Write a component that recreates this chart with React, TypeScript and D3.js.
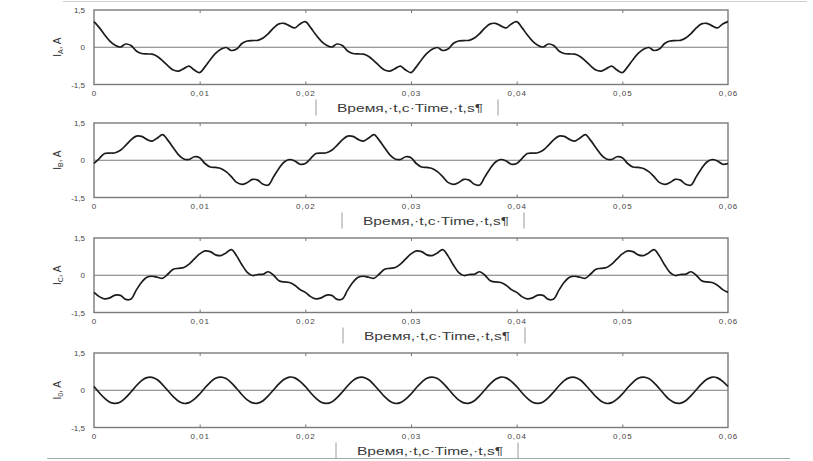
import React, { useEffect, useRef } from "react";
import * as d3 from "d3";

// sampling step of the recorded currents, s
const timeStep = 0.0005;

// phase A current, A
const currentA = [
  1.03, 0.79, 0.5, 0.25, 0.08, 0.01, 0.13, 0.07, -0.15, -0.25, -0.27, -0.28, -0.37, -0.55, -0.75, -0.92, -0.96, -0.86, -0.76, -0.92, -1.02,
  -0.79, -0.5, -0.25, -0.08, -0.01, -0.13, -0.07, 0.15, 0.25, 0.27, 0.28, 0.37, 0.55, 0.78, 0.94, 0.96, 0.86, 0.78, 0.94, 1.03,
  0.79, 0.5, 0.25, 0.08, 0.01, 0.13, 0.07, -0.15, -0.25, -0.27, -0.28, -0.37, -0.55, -0.75, -0.92, -0.96, -0.86, -0.76, -0.92, -1.02,
  -0.79, -0.5, -0.25, -0.08, -0.01, -0.13, -0.07, 0.15, 0.25, 0.27, 0.28, 0.37, 0.55, 0.78, 0.94, 0.96, 0.86, 0.78, 0.94, 1.03,
  0.79, 0.5, 0.25, 0.08, 0.01, 0.13, 0.07, -0.15, -0.25, -0.27, -0.28, -0.37, -0.55, -0.75, -0.92, -0.96, -0.86, -0.76, -0.92, -1.02,
  -0.79, -0.5, -0.25, -0.08, -0.01, -0.13, -0.07, 0.15, 0.25, 0.27, 0.28, 0.37, 0.55, 0.78, 0.94, 0.96, 0.86, 0.78, 0.94, 1.03,
];

// phase B current, A
const currentB = [
  -0.13, 0.07, 0.27, 0.29, 0.3, 0.4, 0.6, 0.82, 0.97, 0.96, 0.84, 0.77, 0.9, 1.03, 0.8, 0.5, 0.22, 0.05, 0.03, 0.14, 0.1,
  -0.13, -0.27, -0.29, -0.33, -0.46, -0.66, -0.89, -0.97, -0.9, -0.77, -0.8, -0.97, -1.0, -0.66, -0.33, -0.07, 0.03, -0.03, -0.16, -0.13,
  0.07, 0.27, 0.29, 0.3, 0.4, 0.6, 0.82, 0.97, 0.96, 0.84, 0.77, 0.9, 1.03, 0.8, 0.5, 0.22, 0.05, 0.03, 0.14, 0.1,
  -0.13, -0.27, -0.29, -0.33, -0.46, -0.66, -0.89, -0.97, -0.9, -0.77, -0.8, -0.97, -1.0, -0.66, -0.33, -0.07, 0.03, -0.03, -0.16, -0.13,
  0.07, 0.27, 0.29, 0.3, 0.4, 0.6, 0.82, 0.97, 0.96, 0.84, 0.77, 0.9, 1.03, 0.8, 0.5, 0.22, 0.05, 0.03, 0.14, 0.1,
  -0.13, -0.27, -0.29, -0.33, -0.46, -0.66, -0.89, -0.97, -0.9, -0.77, -0.8, -0.97, -1.0, -0.66, -0.33, -0.07, 0.03, -0.03, -0.16, -0.13,
];

// phase C current, A
const currentC = [
  -0.69, -0.86, -0.95, -0.91, -0.8, -0.81, -0.97, -0.96, -0.6, -0.28, -0.08, -0.04, -0.08, -0.12, 0.05, 0.24, 0.28, 0.31, 0.45, 0.66, 0.86,
  0.98, 0.95, 0.82, 0.79, 0.9, 1.03, 0.78, 0.42, 0.12, -0.01, 0.03, 0.04, 0.14, 0.0, -0.22, -0.27, -0.29, -0.4, -0.58, -0.69,
  -0.86, -0.95, -0.91, -0.8, -0.81, -0.97, -0.96, -0.6, -0.28, -0.08, -0.04, -0.08, -0.12, 0.05, 0.24, 0.28, 0.31, 0.45, 0.66, 0.86,
  0.98, 0.95, 0.82, 0.79, 0.9, 1.03, 0.78, 0.42, 0.12, -0.01, 0.03, 0.04, 0.14, 0.0, -0.22, -0.27, -0.29, -0.4, -0.58, -0.69,
  -0.86, -0.95, -0.91, -0.8, -0.81, -0.97, -0.96, -0.6, -0.28, -0.08, -0.04, -0.08, -0.12, 0.05, 0.24, 0.28, 0.31, 0.45, 0.66, 0.86,
  0.98, 0.95, 0.82, 0.79, 0.9, 1.03, 0.78, 0.42, 0.12, -0.01, 0.03, 0.04, 0.14, 0.0, -0.22, -0.27, -0.29, -0.4, -0.58, -0.69,
];

// zero sequence current, A
const current0 = [
  0.15, -0.1, -0.32, -0.48, -0.53, -0.47, -0.3, -0.07, 0.18, 0.39, 0.51, 0.52, 0.42, 0.22, -0.02, -0.26, -0.44, -0.53, -0.5, -0.36, -0.15,
  0.1, 0.32, 0.48, 0.53, 0.47, 0.3, 0.07, -0.18, -0.39, -0.51, -0.52, -0.42, -0.22, 0.02, 0.26, 0.44, 0.53, 0.5, 0.36, 0.15,
  -0.1, -0.32, -0.48, -0.53, -0.47, -0.3, -0.07, 0.18, 0.39, 0.51, 0.52, 0.42, 0.22, -0.02, -0.26, -0.44, -0.53, -0.5, -0.36, -0.15,
  0.1, 0.32, 0.48, 0.53, 0.47, 0.3, 0.07, -0.18, -0.39, -0.51, -0.52, -0.42, -0.22, 0.02, 0.26, 0.44, 0.53, 0.5, 0.36, 0.15,
  -0.1, -0.32, -0.48, -0.53, -0.47, -0.3, -0.07, 0.18, 0.39, 0.51, 0.52, 0.42, 0.22, -0.02, -0.26, -0.44, -0.53, -0.5, -0.36, -0.15,
  0.1, 0.32, 0.48, 0.53, 0.47, 0.3, 0.07, -0.18, -0.39, -0.51, -0.52, -0.42, -0.22, 0.02, 0.26, 0.44, 0.53, 0.5, 0.36, 0.15,
];

const seriesNames = ["A", "B", "C", "0"];
const seriesValues = [currentA, currentB, currentC, current0];

const xTicks = [0, 0.01, 0.02, 0.03, 0.04, 0.05, 0.06];
const xTickLabels = ["0", "0,01", "0,02", "0,03", "0,04", "0,05", "0,06"];
const yTicks = [-1.5, 0, 1.5];
const yTickLabels = ["-1,5", "0", "1,5"];
const axisTitle = "Время,·t,c·Time,·t,s¶";

const font = "Liberation Sans, Arial, sans-serif";

export default function App() {
  const ref = useRef<SVGSVGElement>(null);

  useEffect(() => {
    const svg = d3.select(ref.current);
    svg.selectAll("*").remove();

    const dims = { left: 94, right: 728, height: 74.5 };
    const tops = [10, 123, 238, 353];
    const bracketLeft = [316, 342, 343, 336];
    const bracketWidth = 182;

    const x = d3.scaleLinear().domain([0, 0.06]).range([dims.left, dims.right]);

    // page rules above and below the figure
    svg.append("line").attr("x1", 63).attr("x2", 807).attr("y1", 1.5).attr("y2", 1.5)
      .attr("stroke", "#cfcfcf").attr("stroke-width", 1);
    svg.append("line").attr("x1", 47).attr("x2", 790).attr("y1", 458.5).attr("y2", 458.5)
      .attr("stroke", "#a8a8a8").attr("stroke-width", 1);

    seriesValues.forEach((values, i) => {
      const top = tops[i];
      const y = d3.scaleLinear().domain([-1.5, 1.5]).range([top + dims.height, top]);
      const g = svg.append("g");

      // inner ticks on the top and bottom edges
      const inner = xTicks.slice(1, -1);
      g.append("g")
        .attr("transform", `translate(0,${y(-1.5)})`)
        .call(d3.axisTop(x).tickValues(inner).tickSize(3).tickFormat(() => ""))
        .call(a => a.select(".domain").remove())
        .call(a => a.selectAll("line").attr("stroke", "#777"));
      g.append("g")
        .attr("transform", `translate(0,${y(1.5)})`)
        .call(d3.axisBottom(x).tickValues(inner).tickSize(3).tickFormat(() => ""))
        .call(a => a.select(".domain").remove())
        .call(a => a.selectAll("line").attr("stroke", "#777"));

      // frame and zero line
      g.append("rect")
        .attr("x", x(0)).attr("y", y(1.5))
        .attr("width", x(0.06) - x(0)).attr("height", y(-1.5) - y(1.5))
        .attr("fill", "none").attr("stroke", "#7a7a7a").attr("stroke-width", 1.4);
      g.append("line")
        .attr("x1", x(0)).attr("x2", x(0.06)).attr("y1", y(0)).attr("y2", y(0))
        .attr("stroke", "#7a7a7a").attr("stroke-width", 1);

      // tick labels
      g.append("g")
        .attr("transform", `translate(0,${y(-1.5)})`)
        .call(d3.axisBottom(x).tickValues(xTicks).tickSize(0).tickPadding(6)
          .tickFormat((d, k) => xTickLabels[k]))
        .call(a => a.select(".domain").remove())
        .call(a => a.selectAll("text").attr("font-family", font)
          .attr("font-size", 8).attr("letter-spacing", 1).attr("fill", "#444"));
      g.append("g")
        .attr("transform", `translate(${x(0)},0)`)
        .call(d3.axisLeft(y).tickValues(yTicks).tickSize(0).tickPadding(9)
          .tickFormat((d, k) => yTickLabels[k]))
        .call(a => a.select(".domain").remove())
        .call(a => a.selectAll("text").attr("font-family", font)
          .attr("font-size", 8).attr("fill", "#444"));

      // y title, rotated
      const title = g.append("text")
        .attr("transform", `translate(61,${y(0)}) rotate(-90)`)
        .attr("text-anchor", "middle")
        .attr("font-family", font)
        .attr("font-size", 10).attr("fill", "#333");
      title.append("tspan").text("I");
      title.append("tspan").attr("font-size", 7).attr("dy", 2).text(seriesNames[i]);
      title.append("tspan").attr("dy", -2).text(", A");

      // the current curve
      const line = d3.line<number>()
        .x((d, k) => x(k * timeStep))
        .y(d => y(d))
        .curve(d3.curveCatmullRom.alpha(0.5));
      g.append("path")
        .datum(values)
        .attr("d", line)
        .attr("fill", "none")
        .attr("stroke", "#1c1c1c")
        .attr("stroke-width", 1.7)
        .attr("stroke-linejoin", "round");

      // time caption with its bracket
      const bottom = y(-1.5);
      const bx = bracketLeft[i];
      g.append("line").attr("x1", bx).attr("x2", bx).attr("y1", bottom + 15).attr("y2", bottom + 31)
        .attr("stroke", "#9a9a9a");
      g.append("line").attr("x1", bx + bracketWidth).attr("x2", bx + bracketWidth)
        .attr("y1", bottom + 15).attr("y2", bottom + 31).attr("stroke", "#9a9a9a");
      g.append("text")
        .attr("x", bx + 21).attr("y", bottom + 27)
        .attr("textLength", 146)
        .attr("lengthAdjust", "spacingAndGlyphs")
        .attr("font-family", font)
        .attr("font-size", 11.5).attr("fill", "#3a3a3a")
        .text(axisTitle);
    });
  }, []);

  return (
    <svg
      ref={ref}
      width={813}
      height={461}
      style={{ position: "absolute", left: 0, top: 0, background: "#fff" }}
    />
  );
}
